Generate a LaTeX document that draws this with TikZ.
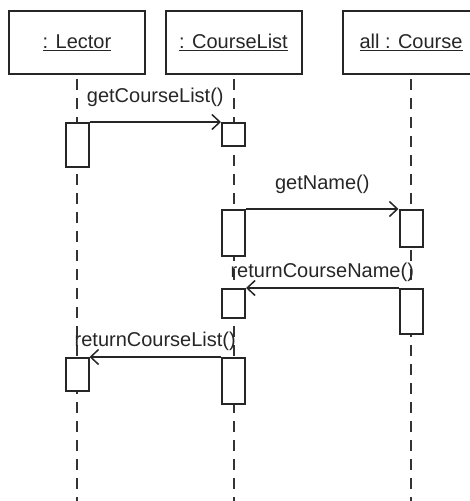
\documentclass[tikz,border=0pt]{standalone}
\usepackage{fontspec}
\setmainfont{Liberation Sans}
\usetikzlibrary{arrows.meta}
\tikzset{
  head/.style     = {shape=rectangle, draw, line width=2pt,
                     minimum width=136pt, minimum height=63pt},
  lifeline/.style = {draw, black!80, line width=2pt,
                     dash pattern=on 11pt off 8pt, shorten <=4pt},
  act/.style      = {shape=rectangle, draw, fill=white, line width=2pt,
                     anchor=north, minimum width=23pt, inner sep=0pt},
  msg/.style      = {draw, line width=1.5pt,
                     -{Straight Barb[length=8pt,width=15pt,line width=1.5pt]}},
  call/.style     = {above=11pt},
  ret/.style      = {above=2pt}
}
\begin{document}
\begin{tikzpicture}
  [
    x = 1pt, y = -1pt,
    every node/.style = {font=\fontsize{20}{24}\selectfont, text=black!85},
    black!85
  ]
  \clip (0,0) rectangle (470,501);
  % object heads
  \node [head] (lector) at (77,42.5)  {\underline{: Lector}};
  \node [head] (list)   at (233.5,42.5) {\underline{: CourseList}};
  \node [head] (course) at (411,42.5) {\underline{all : Course}};
  \coordinate (lectorEnd) at (77,501);
  \coordinate (listEnd)   at (233.5,501);
  \coordinate (courseEnd) at (411,501);
  \draw [lifeline] (lector) -- (lectorEnd);
  \draw [lifeline] (list)   -- (listEnd);
  \draw [lifeline] (course) -- (courseEnd);
  % activations
  \node [act, minimum height=44pt] (lectorA) at (77,122)    {};
  \node [act, minimum height=23pt] (listA)   at (233.5,122) {};
  \node [act, minimum height=46pt] (listB)   at (233.5,209) {};
  \node [act, minimum height=37pt] (courseA) at (411,209)   {};
  \node [act, minimum height=29pt] (listC)   at (233.5,288) {};
  \node [act, minimum height=45pt] (courseB) at (411,288)   {};
  \node [act, minimum height=46pt] (listD)   at (233.5,357) {};
  \node [act, minimum height=33pt] (lectorB) at (77,357)    {};
  % messages
  \draw [msg] (lectorA.north east) -- node [call] {getCourseList()} (listA.north west);
  \draw [msg] (listB.north east) -- node [call] {getName()} (courseA.north west);
  \draw [msg] (courseB.north west) -- node [ret] {returnCourseName()} (listC.north east);
  \draw [msg] (listD.north west) -- node [ret] {returnCourseList()} (lectorB.north east);
\end{tikzpicture}
\end{document}
